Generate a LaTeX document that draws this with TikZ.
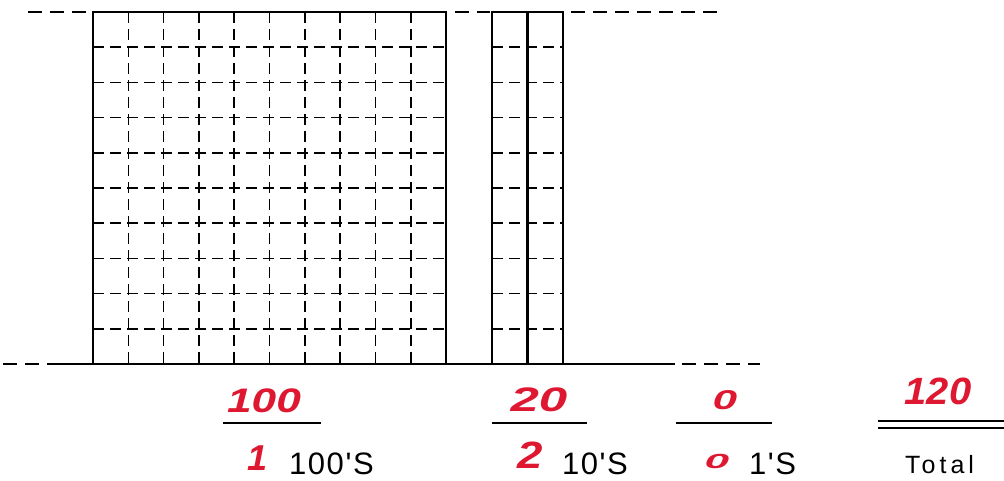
\documentclass[tikz,border=0pt]{standalone}
\usepackage{fontspec}
\setmainfont{Liberation Sans}
\definecolor{hred}{RGB}{222,24,48}
\begin{document}
\begin{tikzpicture}[x=1pt,y=-1pt,
  box/.style={line width=2.3pt},
  gridln/.style={line width=1.6pt, dash pattern=on 11pt off 6pt},
  guide/.style={line width=1.6pt, dash pattern=on 14pt off 8pt},
  rule/.style={line width=2pt},
  hand/.style={text=hred, font=\fontsize{34}{34}\selectfont\itshape\bfseries, inner sep=0pt, anchor=base},
  lab/.style={font=\fontsize{31}{31}\selectfont\addfontfeature{LetterSpace=5,Ligatures=TeXOff}, inner sep=0pt, anchor=base west},
]
\useasboundingbox (0,0) rectangle (1004,481);
% hundreds square
\foreach \i in {1,...,9} {
  \draw[gridln] ({93+\i*35.3},12) -- ({93+\i*35.3},364);
  \draw[gridln] (93,{12+\i*35.2}) -- (446,{12+\i*35.2});
  \draw[gridln] (492,{12+\i*35.2}) -- (563,{12+\i*35.2});
}
\draw[box] (93,12) rectangle (446,364);
% tens rods
\draw[box] (492,12) rectangle (563,364);
\draw[box] (527.5,12) -- (527.5,364);
% guide lines
\draw[guide] (28,12) -- (93,12);
\draw[guide] (455,12) -- (490,12);
\draw[guide] (571,12) -- (718,12);
\draw[guide] (3,364) -- (55,364);
\draw[box] (55,364) -- (675,364);
\draw[guide] (682,364) -- (760,364);
% underlines
\draw[rule] (223,423) -- (321,423);
\draw[rule] (492,423) -- (587,423);
\draw[rule] (676,423) -- (772,423);
\draw[rule] (878,421) -- (1004,421);
\draw[rule] (878,428) -- (1004,428);
% values
\node[hand, xscale=1.3] (v100) at (264,412) {100};
\node[hand, xscale=1.5] (v20) at (539,411) {20};
\node[hand, xscale=1.3, yscale=0.8] (v0) at (725,409) {0};
\node[hand, xscale=1.05, font=\fontsize{38}{38}\selectfont\itshape\bfseries] (v120) at (938,404) {120};
% digit counts
\node[hand, font=\fontsize{36}{36}\selectfont\itshape\bfseries] (c1) at (258,470) {1};
\node[hand, xscale=1.2, font=\fontsize{38}{38}\selectfont\itshape\bfseries] (c2) at (530,468) {2};
\node[hand, xscale=1.3, yscale=0.6] (c0) at (717,468) {0};
% place labels
\node[lab] (l100) at (289,474) {100'S};
\node[lab] (l10) at (562,474) {10'S};
\node[lab] (l1) at (749,474) {1'S};
\node[lab, font=\fontsize{25}{25}\selectfont\addfontfeature{LetterSpace=16}] (ltot) at (905,473) {Total};
\end{tikzpicture}
\end{document}
